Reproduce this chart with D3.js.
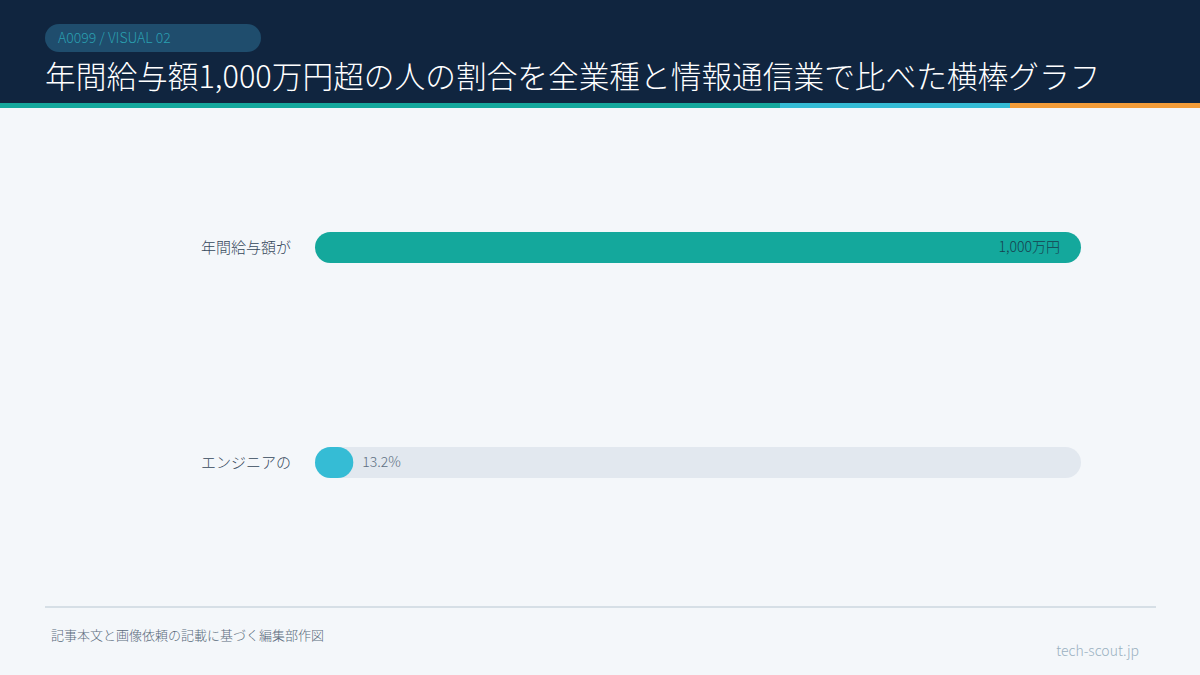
<!DOCTYPE html>
<html><head><meta charset="utf-8">
<script src="https://cdn.jsdelivr.net/npm/d3@7"></script>
<style>
html,body{margin:0;padding:0;background:#f4f7fa;}
svg{display:block;font-family:"Noto Sans CJK JP","Noto Sans",sans-serif;}
</style></head>
<body>
<script>
const categories = ["年間給与額が", "エンジニアの"];
const values = [1000, 13.2];
const valueLabels = ["1,000万円", "13.2%"];
const barColors = ["#14a89c", "#35bcd5"];
const titleText = "年間給与額1,000万円超の人の割合を全業種と情報通信業で比べた横棒グラフ";
const tagText = "A0099 / VISUAL 02";
const sourceText = "記事本文と画像依頼の記載に基づく編集部作図";
const brandText = "tech-scout.jp";

const W = 1200, H = 675;
const svg = d3.select("body").append("svg").attr("width", W).attr("height", H);

svg.append("rect").attr("width", W).attr("height", H).attr("fill", "#f4f7fa");
// header
svg.append("rect").attr("width", W).attr("height", 104).attr("fill", "#10253f");
const stripes = [[0, 780, "#14a89c"], [780, 1010, "#35bcd5"], [1010, 1200, "#f39c38"]];
svg.selectAll("rect.stripe").data(stripes).join("rect").attr("class", "stripe")
  .attr("x", d => d[0]).attr("width", d => d[1] - d[0]).attr("y", 103).attr("height", 5).attr("fill", d => d[2]);
svg.append("rect").attr("x", 45).attr("y", 24).attr("width", 216).attr("height", 28).attr("rx", 14)
  .attr("fill", "#1f4d6d");
svg.append("text").attr("x", 58).attr("y", 43).attr("font-size", 14).attr("font-weight", 200)
  .attr("fill", "#2a9fb0").text(tagText);
svg.append("text").attr("x", 45).attr("y", 88).attr("font-size", 30.7).attr("font-weight", 200)
  .attr("fill", "#ffffff").text(titleText);

// chart
const x0 = 315, x1 = 1081, barH = 31;
const x = d3.scaleLinear().domain([0, d3.max(values)]).range([0, x1 - x0]);
const minW = (x1 - x0) * 0.05;
const y = d3.scalePoint().domain(categories).range([140, 570]).padding(0.5);

const g = svg.append("g");
const rows = g.selectAll("g.row").data(categories).join("g").attr("class", "row")
  .attr("transform", d => `translate(0,${y(d)})`);
rows.append("rect").attr("x", x0).attr("y", -barH / 2).attr("width", x1 - x0).attr("height", barH)
  .attr("rx", barH / 2).attr("fill", "#e2e8ef");
rows.append("rect").attr("x", x0).attr("y", -barH / 2)
  .attr("width", (d, i) => Math.max(x(values[i]), minW)).attr("height", barH)
  .attr("rx", barH / 2).attr("fill", (d, i) => barColors[i]);
rows.append("text").attr("x", 291).attr("y", 0).attr("dy", "0.35em").attr("text-anchor", "end")
  .attr("font-size", 15).attr("font-weight", 300).attr("fill", "#34475a").text(d => d);
rows.append("text")
  .attr("x", (d, i) => {
    const w = Math.max(x(values[i]), minW);
    return w > (x1 - x0) * 0.8 ? x0 + w - 21 : x0 + w + 9;
  })
  .attr("text-anchor", (d, i) => Math.max(x(values[i]), minW) > (x1 - x0) * 0.8 ? "end" : "start")
  .attr("y", 0).attr("dy", "0.35em").attr("font-size", 14).attr("font-weight", 200)
  .attr("fill", (d, i) => Math.max(x(values[i]), minW) > (x1 - x0) * 0.8 ? "#17404f" : "#5d6f82")
  .text((d, i) => valueLabels[i]);

// footer
svg.append("rect").attr("x", 45).attr("y", 606).attr("width", 1111).attr("height", 2).attr("fill", "#d6dfe6");
svg.append("text").attr("x", 51).attr("y", 640).attr("font-size", 13).attr("font-weight", 200)
  .attr("fill", "#5a6b7c").text(sourceText);
svg.append("text").attr("x", 1139).attr("y", 656).attr("text-anchor", "end").attr("font-size", 14)
  .attr("font-weight", 200).attr("fill", "#9ab1c1").text(brandText);
</script>
</body></html>
